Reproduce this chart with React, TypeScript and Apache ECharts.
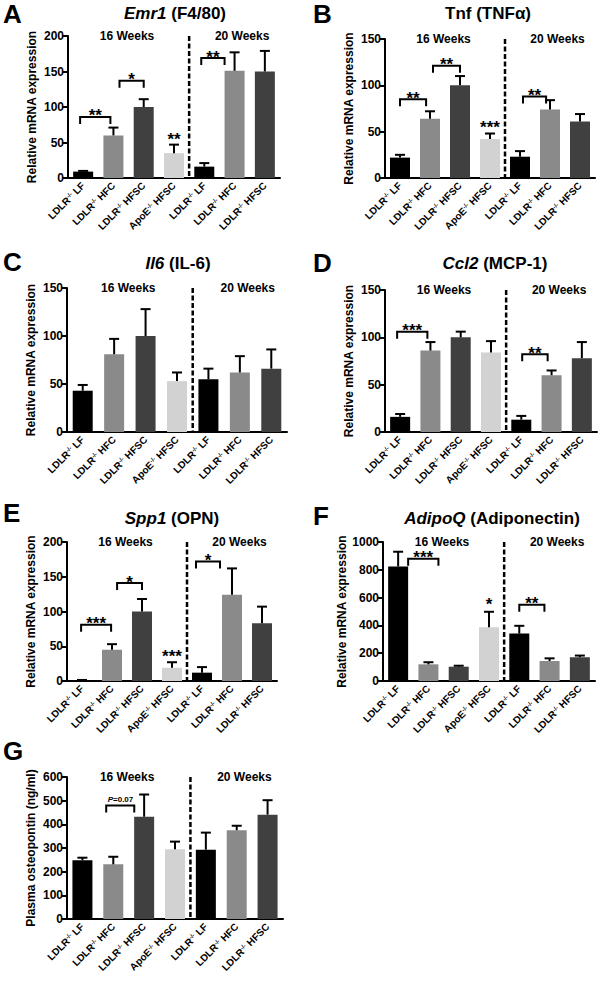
import React, { useEffect, useRef } from "react";
import * as echarts from "echarts";

const FONT = '"Liberation Sans", Arial, sans-serif';

const categories = ["LDLR-/- LF", "LDLR-/- HFC", "LDLR-/- HFSC", "ApoE-/- HFSC", "LDLR-/- LF", "LDLR-/- HFC", "LDLR-/- HFSC"];
const weekLabels = ["16 Weeks", "20 Weeks"];
const barColors = ["#000000", "#8a8a8a", "#404040", "#d2d2d2", "#000000", "#8a8a8a", "#404040"];

// Emr1 (F4/80)
const emr1Mean = [9, 60, 100, 35, 16, 151, 150];
const emr1Sem = [1, 11, 11, 12, 5, 26, 29];
const emr1Brackets = [[-0.1, 0.9, 86, "**"], [1.2, 2.0, 137, "*"], [3.9, 4.67, 169, "**"]];
const emr1Marks = [[3, 58, "**"]];

// Tnf (TNFa)
const tnfMean = [22, 64, 100, 42, 23, 74, 61];
const tnfSem = [3, 8, 10, 6, 6, 10, 8];
const tnfBrackets = [[0, 0.87, 85, "**"], [1.1, 2.0, 121, "**"], [4.1, 4.87, 88, "**"]];
const tnfMarks = [[3, 58, "***"]];

// Il6 (IL-6)
const il6Mean = [43, 81, 100, 53, 55, 62, 66];
const il6Sem = [6, 16, 28, 9, 11, 17, 20];
const il6Brackets = [];
const il6Marks = [];

// Ccl2 (MCP-1)
const ccl2Mean = [16, 86, 100, 84, 13, 60, 78];
const ccl2Sem = [3, 9, 6, 12, 4, 5, 17];
const ccl2Brackets = [[-0.1, 0.9, 106, "***"], [4.03, 4.87, 82, "**"]];
const ccl2Marks = [];

// Spp1 (OPN)
const spp1Mean = [1, 45, 100, 19, 12, 124, 83];
const spp1Sem = [0.5, 8, 18, 8, 8, 38, 24];
const spp1Brackets = [[-0.03, 0.97, 81, "***"], [1.17, 2.0, 141, "*"], [3.8, 4.6, 172, "*"]];
const spp1Marks = [[3, 39, "***"]];

// AdipoQ (Adiponectin)
const adipoqMean = [824, 120, 103, 387, 341, 144, 171];
const adipoqSem = [106, 15, 7, 111, 56, 19, 12];
const adipoqBrackets = [[0.33, 1.33, 880, "***"], [4.0, 4.83, 548, "**"]];
const adipoqMarks = [[3, 572, "*"]];

// Plasma osteopontin
const opnMean = [248, 231, 432, 295, 293, 375, 441];
const opnSem = [11, 32, 94, 32, 72, 19, 61];
const opnBrackets = [[0.77, 1.68, 480, "P=0.07"]];
const opnMarks = [];

const panels = [
  { letter: "A", title: "{i|Emr1} (F4/80)", yName: "Relative mRNA expression", max: 200, interval: 50, mean: emr1Mean, sem: emr1Sem, brackets: emr1Brackets, marks: emr1Marks,
    grid: { left: 68, top: 36, width: 212, height: 142 }, titleXY: [175, 13], letterXY: [3, 13.5] },
  { letter: "B", title: "Tnf (TNFα)", yName: "Relative mRNA expression", max: 150, interval: 50, mean: tnfMean, sem: tnfSem, brackets: tnfBrackets, marks: tnfMarks,
    grid: { left: 385, top: 39, width: 210, height: 139 }, titleXY: [488, 13], letterXY: [313, 13.5] },
  { letter: "C", title: "{i|Il6} (IL-6)", yName: "Relative mRNA expression", max: 150, interval: 50, mean: il6Mean, sem: il6Sem, brackets: il6Brackets, marks: il6Marks,
    grid: { left: 67, top: 288, width: 220, height: 144 }, titleXY: [178, 263], letterXY: [3, 262] },
  { letter: "D", title: "{i|Ccl2} (MCP-1)", yName: "Relative mRNA expression", max: 150, interval: 50, mean: ccl2Mean, sem: ccl2Sem, brackets: ccl2Brackets, marks: ccl2Marks,
    grid: { left: 385, top: 290, width: 212, height: 142 }, titleXY: [495, 263], letterXY: [313, 263] },
  { letter: "E", title: "{i|Spp1} (OPN)", yName: "Relative mRNA expression", max: 200, interval: 50, mean: spp1Mean, sem: spp1Sem, brackets: spp1Brackets, marks: spp1Marks,
    grid: { left: 67, top: 542, width: 210, height: 139 }, titleXY: [172, 518], letterXY: [3, 513] },
  { letter: "F", title: "{i|AdipoQ} (Adiponectin)", yName: "Relative mRNA expression", max: 1000, interval: 200, mean: adipoqMean, sem: adipoqSem, brackets: adipoqBrackets, marks: adipoqMarks,
    grid: { left: 383, top: 542, width: 212, height: 139 }, titleXY: [492, 518], letterXY: [313, 516] },
  { letter: "G", title: "", yName: "Plasma osteopontin (ng/ml)", max: 600, interval: 100, mean: opnMean, sem: opnSem, brackets: opnBrackets, marks: opnMarks,
    grid: { left: 67, top: 777, width: 216, height: 142 }, titleXY: [175, 752], letterXY: [3, 751] },
];

function buildOption() {
  const grid: any[] = [];
  const xAxis: any[] = [];
  const yAxis: any[] = [];
  const series: any[] = [];
  const graphic: any[] = [];

  panels.forEach((p, k) => {
    grid.push({ ...p.grid, containLabel: false });
    xAxis.push({
      type: "category", gridIndex: k, data: categories,
      axisLine: { lineStyle: { color: "#000", width: 2 } },
      axisTick: { alignWithLabel: true, length: 5, lineStyle: { color: "#000", width: 2 } },
      axisLabel: {
        rotate: 45, interval: 0, margin: 6, color: "#000", fontWeight: "bold", fontSize: 10, fontFamily: FONT,
        formatter: (s: string) => s.replace("-/-", "{s|-/-}"),
        rich: { s: { fontSize: 6, fontWeight: "bold", fontFamily: FONT, color: "#000", verticalAlign: "top" } },
      },
    });
    yAxis.push({
      type: "value", gridIndex: k, min: 0, max: p.max, interval: p.interval,
      axisLine: { show: true, lineStyle: { color: "#000", width: 2 } },
      axisTick: { show: true, length: 5, lineStyle: { color: "#000", width: 2 } },
      splitLine: { show: false },
      axisLabel: { color: "#000", fontWeight: "bold", fontSize: 12, fontFamily: FONT, margin: 4, formatter: (v: number) => String(v) },
      name: p.yName, nameLocation: "middle", nameGap: 30,
      nameTextStyle: { color: "#000", fontWeight: "bold", fontSize: 12, fontFamily: FONT },
    });
    series.push({
      type: "bar", xAxisIndex: k, yAxisIndex: k, barWidth: 20, silent: true,
      data: p.mean.map((v, i) => ({ value: v, itemStyle: { color: barColors[i] } })),
    });
    series.push({
      type: "custom", xAxisIndex: k, yAxisIndex: k, silent: true, z: 4,
      encode: { x: 0, y: [1, 2] },
      data: p.mean.map((v, i) => [i, v, v + p.sem[i]]),
      renderItem: (params: any, api: any) => {
        const i = api.value(0);
        const p0 = api.coord([i, api.value(1)]);
        const p1 = api.coord([i, api.value(2)]);
        return {
          type: "group",
          children: [
            { type: "line", shape: { x1: p0[0], y1: p0[1], x2: p1[0], y2: p1[1] }, style: { stroke: "#000", lineWidth: 2 } },
            { type: "line", shape: { x1: p1[0] - 5, y1: p1[1], x2: p1[0] + 5, y2: p1[1] }, style: { stroke: "#000", lineWidth: 2 } },
          ],
        };
      },
    });
    series.push({
      type: "custom", xAxisIndex: k, yAxisIndex: k, silent: true, z: 5,
      data: [[0, 0]],
      renderItem: (params: any, api: any) => {
        const band = api.size([1, 0])[0];
        const x0 = api.coord([0, 0])[0];
        const yTop = api.coord([0, p.max])[1];
        const yBot = api.coord([0, 0])[1];
        const children: any[] = [];
        const xd = x0 + 3.5 * band;
        children.push({ type: "line", shape: { x1: xd, y1: yTop, x2: xd, y2: yBot }, style: { stroke: "#000", lineWidth: 2.5, lineDash: [5, 2.5] } });
        children.push({ type: "text", style: { text: weekLabels[0], x: x0 + 1.45 * band, y: yTop, align: "center", verticalAlign: "middle", fill: "#000", fontSize: 12, fontWeight: "bold", fontFamily: FONT } });
        children.push({ type: "text", style: { text: weekLabels[1], x: x0 + 5.25 * band, y: yTop, align: "center", verticalAlign: "middle", fill: "#000", fontSize: 12, fontWeight: "bold", fontFamily: FONT } });
        p.brackets.forEach((b: any) => {
          const xa = x0 + b[0] * band;
          const xb = x0 + b[1] * band;
          const y = api.coord([0, b[2]])[1];
          const cx = (xa + xb) / 2;
          children.push({ type: "polyline", shape: { points: [[xa, y + 7], [xa, y], [xb, y], [xb, y + 7]] }, style: { stroke: "#000", lineWidth: 2, fill: null } });
          const label = String(b[3]);
          if (label.indexOf("*") >= 0) {
            children.push({ type: "text", style: { text: label, x: cx, y: y - 1, align: "center", verticalAlign: "middle", fill: "#000", fontSize: 17, fontWeight: "bold", fontFamily: FONT } });
          } else {
            const first = label.charAt(0);
            const rest = label.slice(1);
            children.push({ type: "text", style: { text: first, x: cx - 12.5, y: y - 6, align: "left", verticalAlign: "middle", fill: "#000", fontSize: 8, fontWeight: "bold", fontStyle: "italic", fontFamily: FONT } });
            children.push({ type: "text", style: { text: rest, x: cx - 7.2, y: y - 6, align: "left", verticalAlign: "middle", fill: "#000", fontSize: 8, fontWeight: "bold", fontFamily: FONT } });
          }
        });
        p.marks.forEach((m: any) => {
          const pt = api.coord([m[0], m[1]]);
          children.push({ type: "text", style: { text: m[2], x: pt[0], y: pt[1] + 3, align: "center", verticalAlign: "middle", fill: "#000", fontSize: 17, fontWeight: "bold", fontFamily: FONT } });
        });
        return { type: "group", children };
      },
    });
    if (p.title) {
      graphic.push({
        type: "text", x: p.titleXY[0], y: p.titleXY[1],
        style: {
          text: p.title, align: "center", verticalAlign: "middle", fill: "#000", fontSize: 17, fontWeight: "bold", fontFamily: FONT,
          rich: { i: { fontStyle: "italic", fontSize: 17, fontWeight: "bold", fontFamily: FONT, fill: "#000" } },
        },
      });
    }
    graphic.push({
      type: "text", x: p.letterXY[0], y: p.letterXY[1],
      style: { text: p.letter, align: "left", verticalAlign: "middle", fill: "#000", fontSize: 26, fontWeight: "bold", fontFamily: FONT },
    });
  });

  return { animation: false, backgroundColor: "#fff", grid, xAxis, yAxis, series, graphic };
}

export default function App() {
  const ref = useRef<HTMLDivElement>(null);
  useEffect(() => {
    document.body.style.margin = "0";
    const chart = echarts.init(ref.current!, null, { renderer: "svg" });
    chart.setOption(buildOption() as any);
    return () => chart.dispose();
  }, []);
  return <div ref={ref} style={{ width: 600, height: 981 }} />;
}
